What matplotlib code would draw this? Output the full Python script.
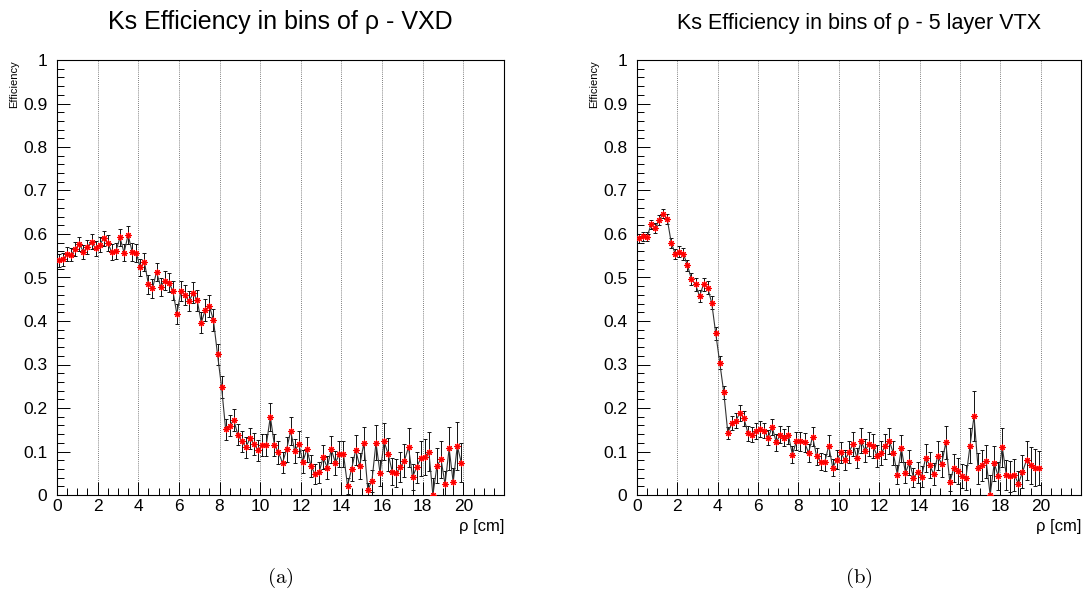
import numpy as np
import matplotlib
matplotlib.use("Agg")
import matplotlib.pyplot as plt
from matplotlib.ticker import MultipleLocator, FuncFormatter

plt.rcParams['font.family'] = ['Liberation Sans', 'DejaVu Sans']
plt.rcParams['mathtext.fontset'] = 'cm'

# ---------------- data ----------------
rho_edges = np.round(np.arange(0, 20.0001, 0.2), 2)
rho_centers = (rho_edges[:-1] + rho_edges[1:]) / 2

eff_vxd = [
    0.540, 0.542, 0.554, 0.552, 0.565, 0.577, 0.559, 0.571, 0.582, 0.567,
    0.575, 0.590, 0.579, 0.558, 0.561, 0.592, 0.557, 0.598, 0.559, 0.556,
    0.523, 0.536, 0.484, 0.475, 0.513, 0.479, 0.493, 0.488, 0.470, 0.416,
    0.470, 0.460, 0.445, 0.465, 0.448, 0.396, 0.426, 0.434, 0.402, 0.323,
    0.248, 0.151, 0.159, 0.172, 0.139, 0.123, 0.110, 0.130, 0.117, 0.103,
    0.115, 0.115, 0.180, 0.115, 0.098, 0.074, 0.105, 0.147, 0.101, 0.117,
    0.077, 0.105, 0.067, 0.048, 0.052, 0.087, 0.063, 0.105, 0.074, 0.094,
    0.094, 0.021, 0.060, 0.103, 0.067, 0.119, 0.011, 0.033, 0.120, 0.050,
    0.123, 0.094, 0.054, 0.051, 0.064, 0.079, 0.110, 0.041, 0.064, 0.084,
    0.087, 0.100, 0.000, 0.067, 0.082, 0.025, 0.107, 0.029, 0.113, 0.074,
]
err_vxd = [
    0.015, 0.015, 0.015, 0.015, 0.016, 0.016, 0.016, 0.016, 0.017, 0.017,
    0.017, 0.018, 0.018, 0.018, 0.019, 0.019, 0.019, 0.020, 0.020, 0.020,
    0.020, 0.020, 0.021, 0.021, 0.021, 0.021, 0.022, 0.022, 0.022, 0.023,
    0.023, 0.023, 0.023, 0.024, 0.024, 0.024, 0.025, 0.025, 0.025, 0.025,
    0.025, 0.024, 0.024, 0.025, 0.025, 0.024, 0.024, 0.025, 0.025, 0.024,
    0.026, 0.026, 0.032, 0.026, 0.026, 0.024, 0.028, 0.032, 0.027, 0.030,
    0.026, 0.029, 0.025, 0.023, 0.024, 0.028, 0.026, 0.031, 0.028, 0.030,
    0.030, 0.018, 0.028, 0.035, 0.030, 0.038, 0.016, 0.025, 0.040, 0.030,
    0.042, 0.038, 0.032, 0.032, 0.035, 0.038, 0.045, 0.030, 0.036, 0.040,
    0.042, 0.045, 0.040, 0.040, 0.042, 0.030, 0.050, 0.032, 0.055, 0.045,
]

eff_vtx = [
    0.590, 0.595, 0.594, 0.622, 0.614, 0.632, 0.647, 0.634, 0.579, 0.554,
    0.559, 0.554, 0.528, 0.496, 0.484, 0.457, 0.485, 0.477, 0.442, 0.372,
    0.304, 0.236, 0.143, 0.165, 0.171, 0.189, 0.176, 0.142, 0.139, 0.147,
    0.152, 0.148, 0.132, 0.156, 0.121, 0.139, 0.132, 0.138, 0.093, 0.124,
    0.123, 0.121, 0.097, 0.134, 0.089, 0.077, 0.075, 0.113, 0.063, 0.081,
    0.098, 0.080, 0.098, 0.117, 0.085, 0.125, 0.102, 0.117, 0.112, 0.090,
    0.096, 0.112, 0.125, 0.096, 0.047, 0.107, 0.051, 0.075, 0.040, 0.052,
    0.042, 0.085, 0.069, 0.048, 0.090, 0.071, 0.121, 0.029, 0.063, 0.055,
    0.043, 0.040, 0.113, 0.181, 0.061, 0.068, 0.078, 0.000, 0.073, 0.043,
    0.110, 0.046, 0.043, 0.046, 0.026, 0.053, 0.080, 0.068, 0.063, 0.062,
]
err_vtx = [
    0.010, 0.010, 0.010, 0.011, 0.011, 0.011, 0.011, 0.012, 0.012, 0.012,
    0.013, 0.013, 0.013, 0.014, 0.014, 0.014, 0.015, 0.015, 0.015, 0.015,
    0.015, 0.015, 0.014, 0.016, 0.017, 0.018, 0.018, 0.017, 0.017, 0.018,
    0.018, 0.018, 0.018, 0.019, 0.019, 0.019, 0.020, 0.020, 0.019, 0.021,
    0.021, 0.021, 0.020, 0.022, 0.020, 0.019, 0.019, 0.024, 0.020, 0.022,
    0.024, 0.023, 0.025, 0.027, 0.024, 0.028, 0.026, 0.028, 0.028, 0.026,
    0.027, 0.029, 0.030, 0.028, 0.022, 0.030, 0.024, 0.028, 0.022, 0.024,
    0.024, 0.032, 0.030, 0.026, 0.033, 0.030, 0.038, 0.020, 0.032, 0.030,
    0.028, 0.028, 0.040, 0.057, 0.035, 0.035, 0.038, 0.045, 0.040, 0.032,
    0.045, 0.035, 0.035, 0.036, 0.030, 0.038, 0.045, 0.042, 0.042, 0.040,
]

titles = ["Ks Efficiency in bins of \u03c1 - VXD",
          "Ks Efficiency in bins of \u03c1 - 5 layer VTX"]
title_sizes = [18, 15.5]
captions = ["(a)", "(b)"]
xlabel = "\u03c1 [cm]"
ylabel = "Efficiency"

# ---------------- figure ----------------
W, H = 1083, 594
fig = plt.figure(figsize=(W / 100, H / 100), dpi=100)

def px_axes(x0, x1, y0, y1):
    return fig.add_axes([x0 / W, 1 - y1 / H, (x1 - x0) / W, (y1 - y0) / H])

axes = [px_axes(57, 504, 60, 495), px_axes(637, 1081, 60, 495)]
datasets = [(eff_vxd, err_vxd), (eff_vtx, err_vtx)]

for ax, (eff, err), title, tsize, cap in zip(axes, datasets, titles, title_sizes, captions):
    eff = np.asarray(eff)
    err = np.asarray(err)
    lo = np.minimum(err, eff)
    hi = np.minimum(err, 1 - eff)
    ax.errorbar(rho_centers, eff, yerr=[lo, hi], fmt='none', ecolor='#111111',
                elinewidth=0.7, capsize=1.6, capthick=0.7, zorder=2)
    ax.plot(rho_centers, eff, '-', color='#333333', lw=0.8, zorder=3)
    ax.plot(rho_centers, eff, linestyle='none', marker=(8, 2, 0), color='red',
            markersize=4.5, markeredgewidth=0.8, zorder=4)

    ax.set_xlim(0, 22)
    ax.set_ylim(0, 1)
    ax.xaxis.set_major_locator(MultipleLocator(2))
    ax.xaxis.set_minor_locator(MultipleLocator(0.5))
    ax.yaxis.set_major_locator(MultipleLocator(0.1))
    ax.yaxis.set_minor_locator(MultipleLocator(0.02))
    fmt = FuncFormatter(lambda v, p: ('%g' % round(v, 2)))
    ax.yaxis.set_major_formatter(fmt)
    xfmt = FuncFormatter(lambda v, p: ('%g' % v) if v <= 20.01 else '')
    ax.xaxis.set_major_formatter(xfmt)
    ax.tick_params(which='both', direction='in', top=False, right=False,
                   labelsize=12.5, width=0.7, colors='black')
    ax.tick_params(which='major', length=9.5)
    ax.tick_params(which='minor', length=5)
    ax.tick_params(axis='y', pad=7)
    ax.tick_params(axis='x', pad=3)
    for s in ax.spines.values():
        s.set_linewidth(0.8)
        s.set_color('black')

    for g in np.arange(2, 20.01, 2):
        ax.axvline(g, color='#555555', lw=0.6, ls=(0, (1, 1.5)), zorder=1)

    ax.set_title(title, fontsize=tsize, pad=22)
    ax.text(1.0, -0.055, xlabel, transform=ax.transAxes, ha='right', va='top',
            fontsize=12)
    bb = ax.get_position()
    # y-axis title: right-aligned to the top of the axis, left of tick labels
    fig.text(bb.x0 - 43 / W, bb.y1, ylabel, ha='center', va='top',
             rotation=90, fontsize=8)
    fig.text((bb.x0 + bb.x1) / 2, 1 - 578 / H, r'$\mathrm{' + cap + '}$',
             ha='center', va='center', fontsize=15)

fig.savefig("out.png", dpi=100)
